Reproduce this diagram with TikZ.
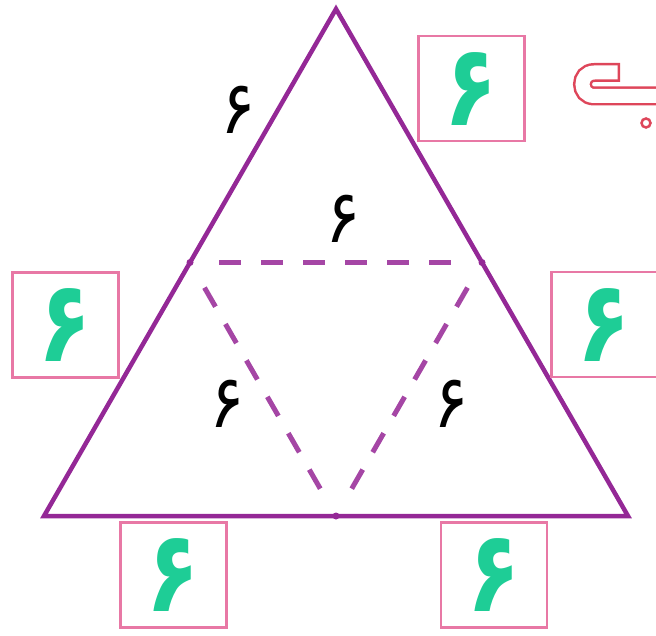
\documentclass[tikz,border=0pt]{standalone}
\usepackage{fontspec}
\usepackage{graphicx}
\newfontfamily\digfont{DejaVu Sans}
\newfontfamily\digfontb{DejaVu Sans Bold}
\newcommand\gsix{\scalebox{1}[1.3]{۶}}
\newcommand\bsix{\scalebox{1}[1.12]{۶}}
\definecolor{tri}{RGB}{148,40,150}
\definecolor{dashc}{RGB}{165,70,165}
\definecolor{boxc}{RGB}{232,120,165}
\definecolor{grn}{RGB}{30,205,150}
\definecolor{bred}{RGB}{222,70,90}
\begin{document}
\begin{tikzpicture}[x=1pt,y=-1pt,
  sidebox/.style={draw=boxc, line width=2.5pt, minimum width=106pt, minimum height=105pt, inner sep=0pt, font=\digfontb\fontsize{87}{87}\selectfont, text=grn},
  lbl/.style={font=\digfont\fontsize{66}{66}\selectfont, text=black, inner sep=0pt},
  dashline/.style={draw=dashc, line width=5pt, dash pattern=on 22pt off 20pt, shorten <=29pt, shorten >=30pt},
  middot/.style={fill=tri}]
\useasboundingbox (0,0) rectangle (656,636);
\clip (0,0) rectangle (656,636);
\coordinate (A) at (336,9);
\coordinate (B) at (44,516);
\coordinate (C) at (628,516);
\coordinate (M1) at (190,262.5);
\coordinate (M2) at (482,262.5);
\coordinate (M3) at (336,516);
\draw[dashline] (M1) -- (M2);
\draw[dashline] (M1) -- (M3);
\draw[dashline] (M2) -- (M3);
\draw[draw=tri, line width=4.5pt, line join=miter] (A) -- (B) -- (C) -- cycle;
\fill[middot] (M1) circle (3.5);
\fill[middot] (M2) circle (3.5);
\fill[middot] (M3) circle (3.5);
% labels
\node[lbl] (l1) at (238,110) {\bsix};
\node[lbl] (l2) at (343,219) {\bsix};
\node[lbl] (l3) at (227,404) {\bsix};
\node[lbl] (l4) at (451,404) {\bsix};
% boxes
\node[sidebox] (b1) at (471.5,88.5) {\gsix};
\node[sidebox] (b2) at (65.5,325) {\gsix};
\node[sidebox] (b3) at (604.5,324.5) {\gsix};
\node[sidebox] (b4) at (173.5,575) {\gsix};
\node[sidebox] (b5) at (494,575) {\gsix};
% letter be outline
\draw[bred, line width=19pt] (620,72.5) -- (594.25,72.5) .. controls (578.6,72.5) and (578.6,96) .. (594.25,96) -- (670,96);
\draw[white, line width=14pt, shorten <=2.5pt] (620,72.5) -- (594.25,72.5) .. controls (578.6,72.5) and (578.6,96) .. (594.25,96) -- (670,96);
\draw[bred, line width=2.5pt] (646,123) circle (4.5);
\end{tikzpicture}
\end{document}
